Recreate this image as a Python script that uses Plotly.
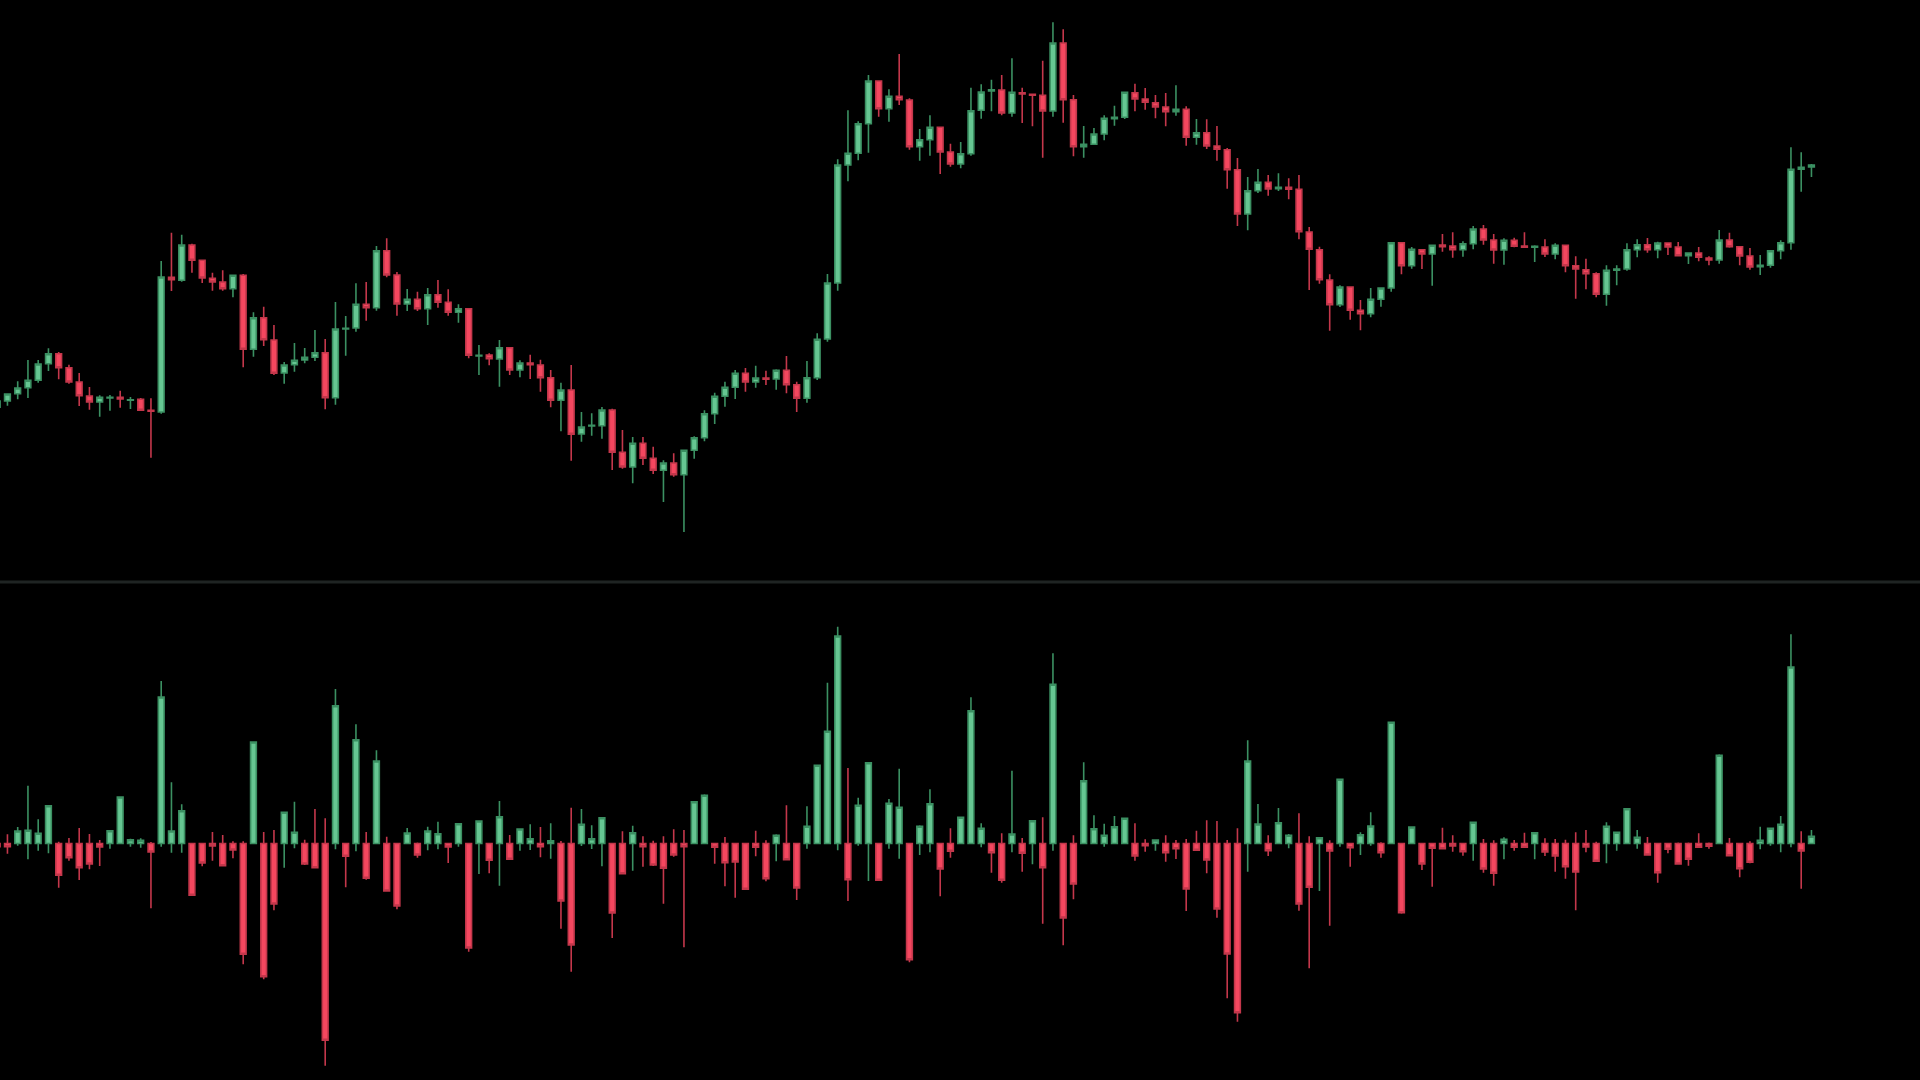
import plotly.graph_objects as go

# ---- main price panel (OHLC) ----
price_open = [109.27, 109.90, 110.63, 111.23, 111.97, 113.63, 114.63, 113.23, 111.80, 110.40,
              109.80, 110.20, 110.27, 109.97, 110.07, 108.97, 108.80, 122.27, 121.97, 125.50,
              123.97, 122.17, 121.80, 121.13, 122.47, 115.07, 118.23, 116.00, 112.70, 113.53,
              114.00, 114.27, 114.73, 110.23, 117.10, 117.20, 119.57, 119.23, 124.93, 122.50,
              119.60, 120.07, 119.13, 120.53, 119.77, 118.77, 119.13, 114.40, 114.50, 114.10,
              115.23, 113.00, 113.70, 113.50, 112.23, 109.97, 111.00, 106.60, 107.40, 107.43,
              109.00, 104.77, 103.30, 105.67, 104.17, 102.97, 103.70, 102.53, 104.97, 106.23,
              108.63, 110.37, 111.27, 112.67, 111.80, 112.20, 112.10, 112.97, 111.53, 110.17,
              112.23, 116.10, 121.70, 133.50, 134.67, 137.63, 141.90, 139.13, 140.37, 140.00,
              135.33, 136.03, 137.27, 134.80, 133.60, 134.63, 138.97, 140.90, 141.00, 138.70,
              140.73, 140.57, 140.47, 138.90, 145.70, 140.03, 135.33, 135.57, 136.60, 138.13,
              138.27, 140.73, 140.10, 139.73, 139.30, 138.83, 139.07, 136.27, 136.73, 135.40,
              135.03, 133.03, 128.60, 130.93, 131.77, 131.13, 131.27, 131.07, 126.80, 125.03,
              122.00, 119.53, 121.30, 118.97, 118.63, 120.07, 121.20, 125.73, 123.43, 125.03,
              124.60, 125.50, 125.40, 125.03, 125.63, 127.10, 126.00, 125.00, 125.97, 125.40,
              125.27, 125.30, 124.60, 125.47, 123.43, 123.03, 122.63, 120.57, 122.97, 123.10,
              125.03, 125.53, 125.03, 125.70, 125.30, 124.43, 124.70, 124.20, 124.00, 126.00,
              125.33, 124.40, 123.33, 123.47, 124.93, 125.73, 133.07, 133.30]
price_high = [110.07, 110.63, 111.87, 114.00, 114.00, 115.17, 114.80, 113.53, 112.70, 111.30,
              110.47, 110.50, 110.93, 110.30, 110.20, 110.17, 123.90, 126.73, 126.53, 125.63,
              124.00, 122.73, 122.97, 122.50, 122.60, 118.77, 119.33, 117.50, 113.80, 115.70,
              115.20, 117.00, 116.10, 119.80, 118.40, 121.67, 121.80, 125.40, 126.17, 122.80,
              121.10, 120.83, 121.20, 122.00, 121.07, 119.57, 119.17, 115.50, 114.67, 116.00,
              115.27, 113.97, 114.53, 114.03, 113.00, 111.73, 113.50, 108.80, 108.67, 109.30,
              109.13, 107.00, 106.30, 106.30, 105.33, 103.97, 104.67, 105.00, 106.37, 108.97,
              110.73, 111.83, 113.00, 113.20, 113.43, 112.93, 113.07, 114.40, 111.83, 113.90,
              116.67, 122.60, 134.07, 138.97, 137.87, 142.50, 141.93, 141.07, 144.60, 140.17,
              137.10, 138.47, 137.33, 135.63, 135.80, 141.23, 141.57, 142.03, 142.50, 144.17,
              141.23, 140.60, 143.93, 147.77, 147.07, 140.50, 137.40, 137.20, 138.47, 139.43,
              140.80, 141.63, 141.20, 140.50, 140.70, 141.47, 139.37, 138.10, 138.07, 137.40,
              135.20, 134.20, 132.30, 133.10, 132.50, 132.67, 132.17, 132.50, 127.30, 125.33,
              122.57, 121.47, 121.33, 120.00, 121.20, 121.27, 125.80, 125.77, 125.30, 125.07,
              125.50, 126.60, 126.77, 125.87, 127.40, 127.50, 126.60, 126.17, 126.23, 126.77,
              125.47, 126.07, 125.67, 125.50, 124.37, 124.13, 122.77, 123.47, 123.47, 125.67,
              126.07, 126.20, 125.83, 125.73, 125.80, 124.73, 125.30, 124.37, 127.00, 126.73,
              125.40, 125.20, 124.50, 124.97, 125.97, 135.27, 134.77, 133.60]
price_low = [109.17, 109.43, 110.07, 110.20, 111.73, 112.90, 112.07, 111.63, 109.40, 109.03,
             108.33, 108.93, 109.23, 109.10, 108.93, 104.23, 108.63, 120.90, 121.83, 122.73,
             121.70, 120.93, 120.93, 120.27, 113.27, 114.33, 115.40, 112.50, 111.63, 112.83,
             113.67, 113.90, 109.07, 109.53, 114.43, 116.83, 117.93, 118.93, 122.27, 118.43,
             118.90, 118.90, 117.50, 119.23, 118.43, 117.73, 114.17, 112.50, 113.47, 111.33,
             112.50, 112.27, 112.10, 110.83, 109.27, 106.87, 103.93, 105.83, 106.43, 106.13,
             103.00, 103.13, 101.67, 103.50, 102.60, 99.80, 102.33, 96.80, 104.13, 105.87,
             107.60, 109.33, 110.10, 110.83, 111.23, 111.50, 111.03, 110.67, 108.80, 109.73,
             112.00, 115.83, 120.93, 131.87, 133.97, 134.73, 138.33, 137.83, 139.50, 135.03,
             133.93, 134.43, 132.60, 133.33, 133.17, 134.43, 138.13, 138.87, 138.47, 138.33,
             137.70, 137.37, 134.23, 138.33, 137.73, 134.37, 134.23, 135.53, 135.97, 137.43,
             138.10, 138.87, 139.03, 138.17, 137.37, 138.43, 135.43, 135.53, 135.10, 133.93,
             131.13, 127.40, 126.97, 130.70, 130.43, 130.90, 130.07, 126.07, 121.00, 121.63,
             116.93, 119.30, 118.03, 116.97, 118.27, 119.33, 120.83, 122.57, 123.13, 123.10,
             121.43, 124.83, 124.23, 124.33, 125.07, 125.53, 123.63, 123.53, 125.27, 125.23,
             123.80, 124.30, 124.07, 122.77, 120.13, 121.07, 120.27, 119.43, 121.47, 122.93,
             124.27, 124.73, 124.17, 124.50, 124.40, 123.60, 123.87, 123.47, 123.63, 125.23,
             123.47, 123.03, 122.50, 123.23, 124.07, 125.03, 130.83, 132.30]
price_close = [109.90, 110.60, 111.20, 111.97, 113.60, 114.63, 113.23, 111.80, 110.43, 109.80,
               110.27, 110.27, 110.10, 110.03, 108.97, 108.87, 122.30, 122.03, 125.50, 123.97,
               122.20, 121.80, 121.13, 122.47, 115.07, 118.23, 116.03, 112.67, 113.50, 113.97,
               114.27, 114.73, 110.23, 117.10, 117.17, 119.57, 119.23, 124.93, 122.50, 119.60,
               120.07, 119.13, 120.53, 119.77, 118.77, 119.13, 114.47, 114.47, 114.13, 115.23,
               113.00, 113.70, 113.53, 112.23, 109.97, 111.00, 106.57, 107.30, 107.47, 109.00,
               104.77, 103.30, 105.67, 104.17, 102.97, 103.70, 102.53, 104.97, 106.23, 108.63,
               110.37, 111.27, 112.67, 111.80, 112.20, 112.07, 112.97, 111.53, 110.17, 112.23,
               116.07, 121.70, 133.50, 134.67, 137.63, 141.90, 139.13, 140.37, 140.03, 135.33,
               136.03, 137.27, 134.80, 133.60, 134.63, 138.93, 140.80, 141.03, 138.70, 140.77,
               140.60, 140.47, 138.90, 145.70, 140.03, 135.33, 135.57, 136.60, 138.17, 138.27,
               140.77, 140.10, 139.77, 139.30, 138.83, 139.07, 136.27, 136.73, 135.40, 135.07,
               133.03, 128.60, 130.93, 131.77, 131.10, 131.27, 131.07, 126.83, 125.07, 122.03,
               119.53, 121.30, 118.97, 118.63, 120.07, 121.20, 125.73, 123.43, 125.07, 124.60,
               125.47, 125.33, 125.03, 125.63, 127.10, 126.00, 125.00, 125.97, 125.37, 125.27,
               125.37, 124.60, 125.47, 123.43, 123.10, 122.63, 120.57, 122.97, 123.10, 125.03,
               125.53, 125.03, 125.70, 125.30, 124.43, 124.70, 124.27, 124.00, 126.00, 125.33,
               124.40, 123.30, 123.47, 124.93, 125.73, 133.07, 133.27, 133.50]

# ---- lower oscillator panel (candles anchored at zero) ----
osc_close = [-0.32, -0.32, 1.25, 1.32, 1.02, 3.78, -3.18, -1.42, -2.42, -2.05,
             -0.35, 1.28, 4.65, 0.38, 0.32, -0.85, 14.65, 1.25, 3.28, -5.18,
             -1.95, -0.25, -2.22, -0.65, -11.08, 10.15, -13.32, -6.05, 3.12, 1.12,
             -2.05, -2.42, -19.68, 13.78, -1.28, 10.38, -3.48, 8.25, -4.75, -6.25,
             1.05, -1.15, 1.25, 0.98, -0.35, 1.98, -10.45, 2.25, -1.68, 2.68,
             -1.58, 1.45, 0.48, -0.32, 0.28, -5.75, -10.15, 1.92, 0.48, 2.58,
             -6.95, -3.02, 1.08, -0.32, -2.15, -2.48, -1.15, -0.32, 4.18, 4.82,
             -0.38, -1.92, -1.85, -4.58, -0.38, -3.52, 0.82, -1.62, -4.45, 1.72,
             7.82, 11.22, 20.75, -3.62, 3.82, 8.08, -3.68, 4.02, 3.62, -11.62,
             1.72, 3.98, -2.55, -0.78, 2.62, 13.28, 1.52, -0.92, -3.68, 0.95,
             -0.98, 2.28, -2.42, 15.92, -7.45, -4.05, 6.28, 1.48, 0.82, 1.68,
             2.52, -1.25, -0.22, 0.35, -0.92, -0.52, -4.55, -0.68, -1.65, -6.55,
             -11.05, -16.92, 8.25, 1.95, -0.72, 2.08, 0.82, -6.05, -4.38, 0.58,
             -0.75, 6.42, -0.42, 0.88, 1.75, -0.92, 12.12, -6.92, 1.65, -2.05,
             -0.48, -0.52, -0.25, -0.82, 2.12, -2.55, -2.98, 0.42, -0.38, -0.38,
             1.08, -0.85, -1.25, -2.32, -2.85, -0.35, -1.78, 1.72, 1.12, 3.48,
             0.62, -1.15, -2.92, -0.58, -2.05, -1.58, -0.38, -0.28, 8.82, -1.22,
             -2.52, -1.88, 0.32, 1.52, 1.92, 17.65, -0.75, 0.72]
osc_high = [0.00, 0.92, 1.65, 5.78, 2.42, 3.80, 0.18, 0.55, 1.55, 0.95,
            0.35, 1.30, 4.72, 0.48, 0.52, 0.15, 16.25, 6.12, 3.92, 0.00,
            0.00, 1.15, 0.85, 0.22, 0.22, 10.22, 1.15, 1.35, 3.15, 4.18,
            0.38, 3.45, 2.52, 15.45, 0.00, 11.92, 1.15, 9.32, 0.68, 0.00,
            1.55, 0.10, 1.68, 2.18, 0.00, 2.02, 0.00, 2.28, 0.00, 4.25,
            0.85, 1.48, 1.92, 1.65, 2.02, 0.25, 3.58, 3.45, 1.82, 2.62,
            0.00, 1.22, 1.78, 0.72, 0.28, 0.72, 1.42, 1.35, 4.20, 4.92,
            0.08, 0.65, 0.00, 0.00, 1.28, 0.32, 0.92, 3.82, 0.00, 3.72,
            7.85, 16.08, 21.68, 7.55, 4.58, 8.10, 0.00, 4.45, 7.48, 0.00,
            1.82, 5.42, 0.00, 1.52, 2.65, 14.62, 2.02, 0.00, 1.02, 7.28,
            0.55, 2.30, 2.62, 19.02, 0.00, 0.82, 8.12, 2.82, 1.98, 2.75,
            2.55, 2.02, 0.42, 0.38, 0.82, 0.35, 0.45, 1.28, 2.32, 2.25,
            0.35, 1.52, 10.32, 3.95, 0.82, 3.55, 0.95, 3.02, 0.72, 0.60,
            0.32, 6.45, 0.00, 1.12, 3.12, 0.12, 12.18, 0.00, 1.72, 0.00,
            0.00, 1.58, 0.82, 0.00, 2.18, 0.45, 0.32, 0.62, 0.35, 1.08,
            1.10, 0.52, 0.45, 0.38, 1.12, 1.35, 0.18, 2.12, 1.15, 3.55,
            1.35, 0.65, 0.00, 0.00, 0.10, 0.10, 1.02, 0.10, 8.92, 0.55,
            0.00, 0.22, 1.68, 1.55, 2.75, 20.92, 1.22, 1.35]
osc_low = [-0.40, -1.02, -0.22, -1.58, -0.72, -0.98, -4.42, -1.72, -3.65, -2.58,
           -2.25, -0.52, -0.08, -0.32, -0.42, -6.48, -0.32, -0.92, -0.92, -5.20,
           -2.28, -1.72, -2.25, -1.48, -12.08, 0.00, -13.58, -6.68, -2.42, -0.48,
           -2.15, -2.45, -22.22, -0.58, -4.38, -0.78, -3.62, 0.00, -4.78, -6.58,
           0.00, -1.42, -0.68, -0.58, -1.95, -0.32, -10.82, -3.05, -2.98, -4.22,
           -1.60, -0.72, -0.65, -1.38, -1.52, -8.52, -12.82, -0.25, -0.55, -2.28,
           -9.45, -3.05, -2.72, -2.32, -2.25, -6.02, -1.32, -10.38, 0.00, 0.00,
           -2.02, -4.28, -5.42, -4.60, -1.28, -3.78, -1.78, -1.65, -5.65, -0.52,
           0.00, 0.00, -0.68, -5.75, -0.22, -3.75, -3.75, -0.52, -1.52, -11.88,
           -1.15, -0.88, -5.28, -1.42, 0.00, 0.00, -0.38, -2.92, -3.92, -0.88,
           -2.82, -2.08, -8.02, -0.72, -10.18, -5.58, 0.00, 0.00, -0.32, 0.00,
           0.00, -1.72, -0.82, -0.72, -1.82, -1.55, -6.75, -0.70, -2.98, -7.42,
           -15.48, -17.82, -2.82, 0.00, -1.25, 0.00, -0.48, -6.72, -12.48, -4.75,
           -8.22, -0.32, -2.32, -1.15, -0.22, -1.42, 0.00, -7.02, 0.00, -2.65,
           -4.32, -0.55, -0.82, -1.22, -1.72, -2.92, -4.22, -1.58, -0.72, -0.40,
           -1.58, -1.25, -2.82, -3.52, -6.68, -0.88, -1.85, -1.98, -0.72, 0.00,
           -0.52, -1.18, -3.92, -0.98, -2.08, -2.22, -0.40, -0.52, 0.00, -1.25,
           -3.38, -1.98, -0.58, -0.22, -0.88, -0.38, -4.52, 0.00]
osc_open = [0.0] * len(osc_close)  # every oscillator candle opens on the zero line

bars = list(range(len(price_close)))

UP_FILL, UP_LINE = "#66c692", "#3b9062"
DN_FILL, DN_LINE = "#f4475f", "#c4374b"

fig = go.Figure()
fig.add_trace(go.Candlestick(
    x=bars, open=price_open, high=price_high, low=price_low, close=price_close,
    increasing=dict(fillcolor=UP_FILL, line=dict(color=UP_LINE, width=1.6)),
    decreasing=dict(fillcolor=DN_FILL, line=dict(color=DN_LINE, width=1.6)),
    xaxis="x", yaxis="y", showlegend=False, hoverinfo="skip"))
fig.add_trace(go.Candlestick(
    x=bars, open=osc_open, high=osc_high, low=osc_low, close=osc_close,
    increasing=dict(fillcolor=UP_FILL, line=dict(color=UP_LINE, width=1.6)),
    decreasing=dict(fillcolor=DN_FILL, line=dict(color=DN_LINE, width=1.6)),
    xaxis="x2", yaxis="y2", showlegend=False, hoverinfo="skip"))

split = 1 - 582 / 1080
xr = [0.273, 187.59]
hidden = dict(visible=False, showgrid=False, zeroline=False, fixedrange=True)
fig.update_layout(
    width=1920, height=1080,
    margin=dict(l=0, r=0, t=0, b=0),
    paper_bgcolor="#000000", plot_bgcolor="#000000",
    boxgap=0.2,
    xaxis=dict(domain=[0, 1], range=xr, anchor="y", rangeslider=dict(visible=False), **hidden),
    xaxis2=dict(domain=[0, 1], range=xr, anchor="y2", rangeslider=dict(visible=False), **hidden),
    yaxis=dict(domain=[split, 1], range=[91.8, 150.0], anchor="x", **hidden),
    yaxis2=dict(domain=[0, split], range=[-23.65, 26.15], anchor="x2", **hidden),
    shapes=[dict(type="line", xref="paper", yref="paper", x0=0, x1=1, y0=split, y1=split,
                 line=dict(color="#1f2423", width=3))],
)

fig.write_html(
    "out.html",
    config={"displayModeBar": False, "staticPlot": True},
    post_script="document.body.style.margin='0';document.body.style.background='#000';"
                "document.body.style.overflow='hidden';",
)
